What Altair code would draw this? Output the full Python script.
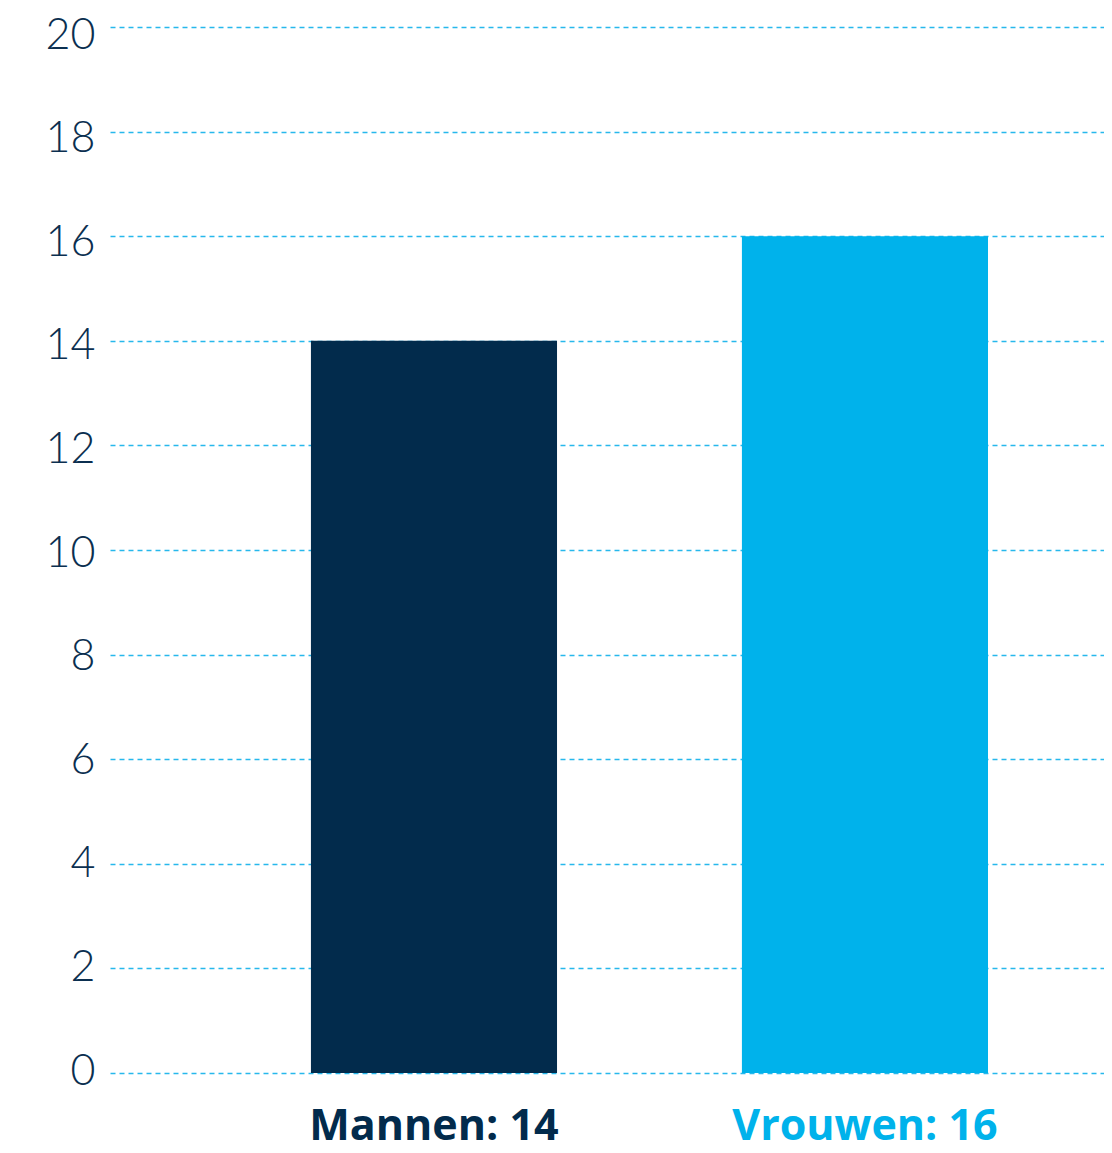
import altair as alt
import pandas as pd

categories = ["Mannen", "Vrouwen"]
values = [14, 16]
colors = ["#022B4C", "#00B2EB"]
y_ticks = list(range(0, 21, 2))

labels = [f"{c}: {v}" for c, v in zip(categories, values)]
df = pd.DataFrame({"label": labels, "value": values, "color": colors})

label_color_expr = f"datum.value == '{labels[0]}' ? '{colors[0]}' : '{colors[1]}'"

chart = alt.Chart(df).mark_bar().encode(
    x=alt.X(
        "label:N",
        sort=labels,
        title=None,
        scale=alt.Scale(paddingInner=0.429, paddingOuter=0.3677, align=0.634),
        axis=alt.Axis(
            labelAngle=0,
            ticks=False,
            domain=False,
            grid=False,
            labelFont="Open Sans",
            labelFontSize=43,
            labelFontWeight="bold",
            labelPadding=32,
            labelLimit=0,
            labelColor=alt.ExprRef(expr=label_color_expr),
        ),
    ),
    y=alt.Y(
        "value:Q",
        title=None,
        scale=alt.Scale(domain=[0, 20], nice=False),
        axis=alt.Axis(
            values=y_ticks,
            ticks=False,
            domain=False,
            grid=True,
            gridColor="#27B8EC",
            gridDash=[5, 4],
            gridWidth=1.5,
            labelFont="Lato",
            labelFontSize=43,
            labelFontWeight=300,
            labelColor="#0B2F50",
            labelPadding=15,
            labelOffset=alt.ExprRef(expr="-2 + datum.value * 0.5"),
        ),
    ),
    color=alt.Color("color:N", scale=None, legend=None),
).properties(
    width=994,
    height=1046,
    autosize=alt.AutoSizeParams(type="none"),
    padding={"left": 102, "top": 19, "right": 0, "bottom": 72},
).configure_view(stroke=None)

chart.save("out.html", embed_options={"renderer": "svg", "actions": False})
